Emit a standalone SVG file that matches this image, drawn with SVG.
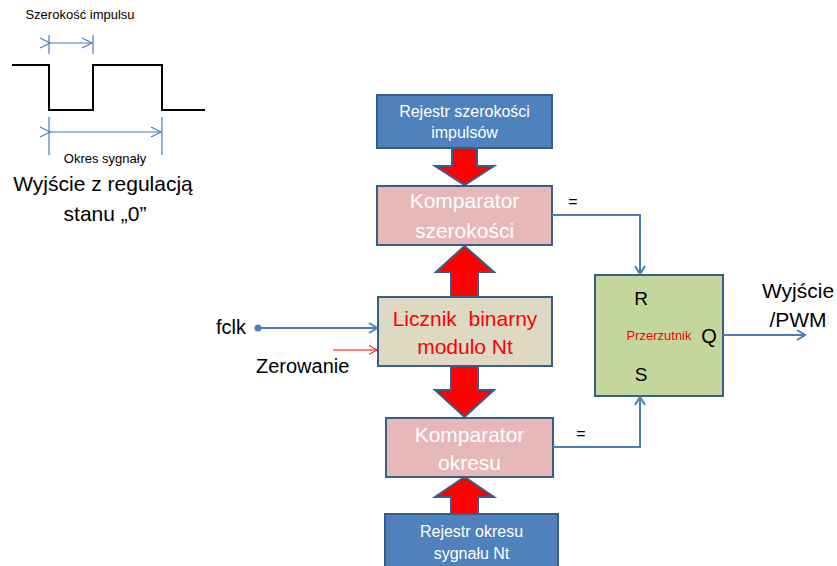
<svg xmlns="http://www.w3.org/2000/svg" width="837" height="566" viewBox="0 0 837 566">
<defs>
<style>
text{font-family:"Liberation Sans",Arial,sans-serif}
.box{stroke:#385D8A;stroke-width:2}
.blue{fill:#4F81BD}
.pink{fill:#E6B9B8}
.tan{fill:#DDD9C3}
.green{fill:#C3D69B}
.barrow{fill:#FF0000;stroke:#385D8A;stroke-width:2;stroke-linejoin:miter}
.wl{fill:none;stroke:#4A7EBB;stroke-width:2}
.thin{fill:none;stroke:#4A7EBB;stroke-width:1.2}
.wave{fill:none;stroke:#000;stroke-width:2}
.wt{fill:#fff;text-anchor:middle}
</style>
<marker id="open" markerWidth="12" markerHeight="12" refX="9" refY="6" orient="auto" markerUnits="userSpaceOnUse">
<path d="M1,1 L9,6 L1,11" fill="none" stroke="#4A7EBB" stroke-width="2"/>
</marker>
<marker id="openThin" markerWidth="14" markerHeight="14" refX="11" refY="7" orient="auto" markerUnits="userSpaceOnUse">
<path d="M1,2 L11,7 L1,12" fill="none" stroke="#4A7EBB" stroke-width="1.2"/>
</marker>
<marker id="openRed" markerWidth="12" markerHeight="12" refX="9" refY="6" orient="auto" markerUnits="userSpaceOnUse">
<path d="M1,1.5 L9,6 L1,10.5" fill="none" stroke="#FF0000" stroke-width="1"/>
</marker>
</defs>

<g id="waveform">
<text x="80" y="19" font-size="13" text-anchor="middle">Szerokość impulsu</text>
<line class="thin" x1="49" y1="35" x2="49" y2="54"/>
<line class="thin" x1="93" y1="35" x2="93" y2="54"/>
<line class="thin" x1="50" y1="43" x2="92" y2="43" marker-start="url(#openThin)" marker-end="url(#openThin)"/>
<path class="wave" d="M12,65 H49 V110 H93 V65 H162 V110 H205"/>
<line class="thin" x1="49" y1="117" x2="49" y2="155"/>
<line class="thin" x1="162" y1="117" x2="162" y2="155"/>
<line class="thin" x1="50" y1="132" x2="161" y2="132" marker-start="url(#openThin)" marker-end="url(#openThin)"/>
<text x="105" y="163" font-size="13" text-anchor="middle">Okres sygnały</text>
<text x="103" y="191" font-size="21" text-anchor="middle">Wyjście z regulacją</text>
<text x="105" y="221" font-size="21" text-anchor="middle">stanu „0”</text>
</g>

<g id="arrows-block">
<path class="barrow" d="M452,148 V166 H435 L464.5,185 L494,166 H477 V148"/>
<path class="barrow" d="M451,297 V272 H436 L464.5,246 L494,272 H478 V297"/>
<path class="barrow" d="M451,366 V390 H435 L464.5,417 L494,390 H478 V366"/>
<path class="barrow" d="M451,514 V497 H435 L464.5,477 L494,497 H478 V514"/>
</g>

<g id="rejestr-szerokosci">
<rect class="box blue" x="377" y="95" width="175" height="53"/>
<text class="wt" x="464.5" y="117" font-size="16">Rejestr szerokości</text>
<text class="wt" x="464.5" y="138" font-size="16">impulsów</text>
</g>

<g id="komparator-szerokosci">
<rect class="box pink" x="377" y="186" width="175" height="59"/>
<text class="wt" x="464.5" y="208" font-size="21">Komparator</text>
<text class="wt" x="464.5" y="238" font-size="21">szerokości</text>
</g>

<g id="licznik">
<rect class="box tan" x="378" y="297" width="174" height="69"/>
<text x="465" y="326" font-size="21" fill="#FF0000" text-anchor="middle" xml:space="preserve">Licznik  binarny</text>
<text x="465" y="354" font-size="21" fill="#FF0000" text-anchor="middle">modulo Nt</text>
</g>

<g id="komparator-okresu">
<rect class="box pink" x="386" y="418" width="167" height="59"/>
<text class="wt" x="469.5" y="442" font-size="21">Komparator</text>
<text class="wt" x="469.5" y="470" font-size="21">okresu</text>
</g>

<g id="rejestr-okresu">
<rect class="box blue" x="385" y="514" width="173" height="60"/>
<text class="wt" x="471.5" y="537" font-size="16">Rejestr okresu</text>
<text class="wt" x="471.5" y="559" font-size="16">sygnału Nt</text>
</g>

<g id="przerzutnik">
<rect class="box green" x="595" y="275" width="128" height="121"/>
<text x="641" y="305" font-size="19" text-anchor="middle">R</text>
<text x="659" y="340" font-size="13" fill="#FF0000" text-anchor="middle">Przerzutnik</text>
<text x="709" y="343" font-size="20" text-anchor="middle">Q</text>
<text x="641" y="381" font-size="19" text-anchor="middle">S</text>
</g>

<g id="connectors">
<path class="wl" d="M552,215 H640 V274" marker-end="url(#open)"/>
<path class="wl" d="M553,447 H640 V397" marker-end="url(#open)"/>
<line class="wl" x1="723" y1="335" x2="805" y2="335" marker-end="url(#open)"/>
<circle cx="258" cy="328" r="3.5" fill="#4A7EBB"/>
<line class="wl" x1="258" y1="328" x2="377" y2="328" marker-end="url(#open)"/>
<line x1="333" y1="350" x2="377" y2="350" stroke="#FF0000" stroke-width="1" marker-end="url(#openRed)"/>
</g>

<g id="labels">
<text x="573" y="207" font-size="16" text-anchor="middle">=</text>
<text x="581" y="439" font-size="16" text-anchor="middle">=</text>
<text x="798" y="298" font-size="21" text-anchor="middle">Wyjście</text>
<text x="798" y="327" font-size="21" text-anchor="middle">/PWM</text>
<text x="246" y="334" font-size="20" text-anchor="end">fclk</text>
<text x="256" y="373" font-size="20">Zerowanie</text>
</g>
</svg>
